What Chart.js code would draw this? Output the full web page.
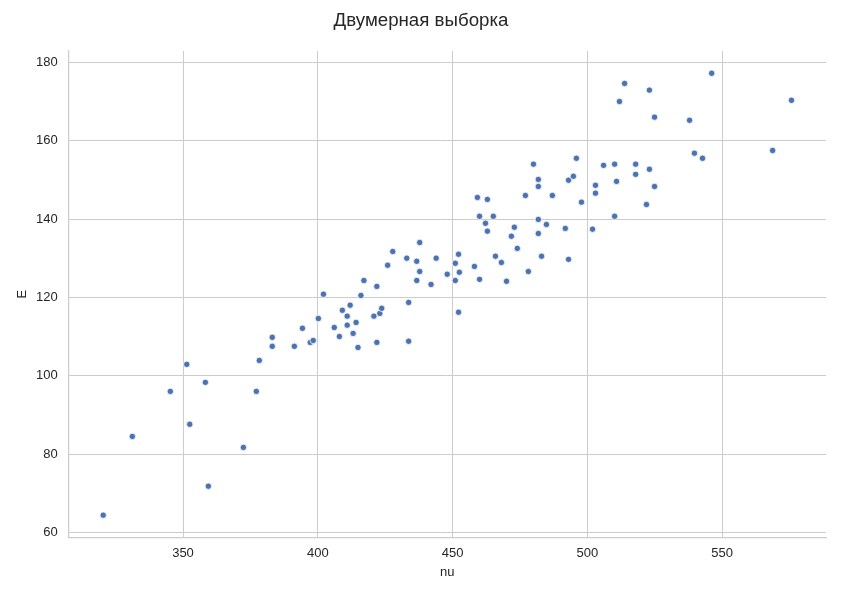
<!DOCTYPE html>
<html>
<head>
<meta charset="utf-8">
<script src="https://cdn.jsdelivr.net/npm/chart.js@4/dist/chart.umd.min.js"></script>
<style>
  html, body { margin: 0; padding: 0; background: #ffffff; }
  #wrap { width: 842px; height: 595px; }
</style>
</head>
<body>
<div id="wrap"><canvas id="c" width="842" height="595"></canvas></div>
<script>
// ---- data ----
const nuValues = [
  320.4, 331.2, 345.3, 351.4, 352.5, 358.3, 359.4, 372.4, 377.2, 378.3,
  383.1, 383.1, 391.3, 394.3, 397.2, 398.3, 400.2, 402.1, 406.1, 408.0,
  409.1, 410.9, 410.9, 412.0, 413.1, 414.2, 414.9, 416.0, 417.1, 420.8,
  421.9, 421.9, 423.0, 423.7, 425.9, 427.8, 433.0, 433.7, 433.7, 436.7,
  437.8, 437.8, 436.7, 442.0, 443.9, 448.0, 451.0, 451.0, 452.2, 452.5,
  452.2, 458.1, 460.0, 459.2, 462.9, 460.0, 465.1, 462.2, 462.9, 465.9,
  468.1, 470.0, 471.8, 472.9, 474.0, 478.1, 477.0, 480.0, 481.8, 481.8,
  481.8, 481.8, 484.8, 483.0, 487.0, 491.8, 493.0, 493.0, 494.8, 495.9,
  497.8, 501.9, 503.0, 503.0, 506.0, 510.1, 510.8, 510.1, 511.9, 513.8,
  517.9, 517.9, 521.9, 523.0, 523.0, 524.9, 524.9, 537.9, 539.7, 542.7,
  546.1, 568.7, 575.7
];
const eValues = [
  64.4, 84.5, 96.0, 102.9, 87.6, 98.3, 71.8, 81.7, 96.0, 103.9,
  109.8, 107.5, 107.5, 112.1, 108.5, 109.0, 114.6, 120.8, 112.3, 110.0,
  116.7, 115.2, 112.9, 118.0, 110.8, 113.6, 107.2, 120.5, 124.3, 115.2,
  122.8, 108.5, 115.9, 117.2, 128.2, 131.7, 130.0, 118.7, 108.8, 129.2,
  134.0, 126.6, 124.3, 123.3, 130.0, 125.9, 128.7, 124.3, 131.0, 126.4,
  116.2, 127.9, 124.6, 145.5, 145.0, 140.7, 140.7, 138.9, 136.9, 130.5,
  128.9, 124.1, 135.6, 137.9, 132.5, 126.6, 146.0, 154.0, 150.1, 148.3,
  139.9, 136.3, 138.6, 130.5, 146.0, 137.6, 129.7, 149.9, 150.9, 155.5,
  144.3, 137.4, 148.6, 146.6, 153.7, 154.0, 149.6, 140.7, 170.0, 174.6,
  154.0, 151.4, 143.7, 172.9, 152.7, 166.0, 148.3, 165.2, 156.8, 155.5,
  177.2, 157.5, 170.3
];
const xTicks = [350, 400, 450, 500, 550];
const yTicks = [60, 80, 100, 120, 140, 160, 180];
const xRange = [307.6, 588.5];
const yRange = [58.7, 182.9];
const chartTitle = 'Двумерная выборка';
const xLabel = 'nu';
const yLabel = 'E';

// ---- build ----
const points = nuValues.map((v, i) => ({ x: v, y: eValues[i] }));
const FONT = "'Liberation Sans', Arial, 'DejaVu Sans', sans-serif";
const TXT = '#262626';
const GRID = '#cccccc';

new Chart(document.getElementById('c'), {
  type: 'scatter',
  data: {
    datasets: [{
      data: points,
      backgroundColor: '#4c72b0',
      borderColor: '#ffffff',
      borderWidth: 0.8,
      pointRadius: 3.2,
      pointHoverRadius: 3.2
    }]
  },
  options: {
    responsive: false,
    animation: false,
    devicePixelRatio: 1,
    layout: { padding: { left: 0, right: 0, top: 0, bottom: 0 } },
    plugins: {
      legend: { display: false },
      tooltip: { enabled: false },
      title: {
        display: true,
        text: chartTitle,
        color: TXT,
        font: { family: FONT, size: 18.7, weight: 'normal' },
        padding: { top: 10, bottom: 18.5 }
      }
    },
    scales: {
      x: {
        type: 'linear',
        min: xRange[0],
        max: xRange[1],
        afterBuildTicks: (s) => { s.ticks = xTicks.map(v => ({ value: v })); },
        afterFit: (s) => { s.height = 57.5; },
        grid: { color: GRID, lineWidth: 1, drawTicks: false },
        border: { display: true, color: GRID, width: 1.2 },
        ticks: { color: TXT, font: { family: FONT, size: 13 }, padding: 8.5 },
        title: {
          display: true, text: xLabel, color: TXT,
          font: { family: FONT, size: 13 },
          padding: { top: 0, bottom: 14.5 }
        }
      },
      y: {
        type: 'linear',
        min: yRange[0],
        max: yRange[1],
        afterBuildTicks: (s) => { s.ticks = yTicks.map(v => ({ value: v })); },
        afterFit: (s) => { s.width = 68.7; },
        grid: { color: GRID, lineWidth: 1, drawTicks: false },
        border: { display: true, color: GRID, width: 1.2 },
        ticks: { color: TXT, font: { family: FONT, size: 13 }, padding: 11 },
        title: {
          display: true, text: yLabel, color: TXT,
          font: { family: FONT, size: 13 },
          padding: { top: 15, bottom: 0 }
        }
      },
      yRightSpacer: {
        type: 'linear',
        position: 'right',
        min: yRange[0],
        max: yRange[1],
        afterFit: (s) => { s.width = 16; },
        grid: { display: false, drawTicks: false },
        border: { display: false },
        ticks: { display: false }
      }
    }
  }
});
</script>
</body>
</html>
